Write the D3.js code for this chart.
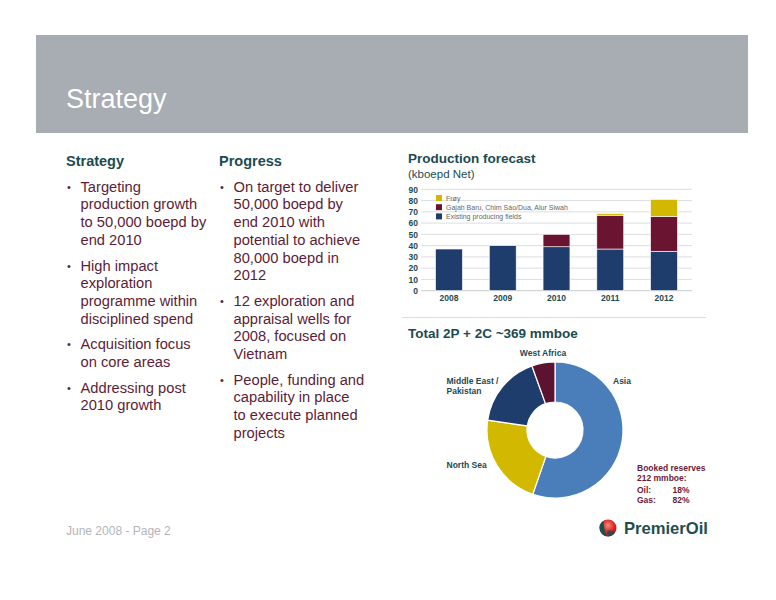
<!DOCTYPE html>
<html lang="en">
<head>
<meta charset="UTF-8">
<title>Strategy</title>
<style>
    body { margin: 0; background: #fff; }
    svg text { font-family: "Liberation Sans", Arial, Helvetica, sans-serif; }
</style>
</head>
<body>
<svg id="slide" width="776" height="600"></svg>
<script src="https://d3js.org/d3.v7.min.js"></script>
<script>
// production forecast (kboepd net)
var years = ["2008", "2009", "2010", "2011", "2012"];
var seriesNames = ["Existing producing fields", "Gajah Baru, Chim Sáo/Dua, Alur Siwah", "Frøy"];
var existingFields = [37, 40, 39, 37, 35];
var gajahChimSao = [0, 0, 11, 30, 31];
var froy = [0, 0, 0, 1.5, 15];
var yTicks = [0, 10, 20, 30, 40, 50, 60, 70, 80, 90];

// total 2P + 2C reserves split (%)
var regions = ["Asia", "North Sea", "Middle East / Pakistan", "West Africa"];
var reserveShares = [55.3, 22, 17.2, 5.5];

var strategyBullets = [
    ["Targeting", "production growth", "to 50,000 boepd by", "end 2010"],
    ["High impact", "exploration", "programme within", "disciplined spend"],
    ["Acquisition focus", "on core areas"],
    ["Addressing post", "2010 growth"]
];
var progressBullets = [
    ["On target to deliver", "50,000 boepd by", "end 2010 with", "potential to achieve", "80,000 boepd in", "2012"],
    ["12 exploration and", "appraisal wells for", "2008, focused on", "Vietnam"],
    ["People, funding and", "capability in place", "to execute planned", "projects"]
];

var teal = "#1b4b52",
    maroon = "#5b1d38",
    seriesColors = ["#1f3d6c", "#6a1431", "#d3b800"],
    sliceColors = ["#4a7ebb", "#d3b800", "#1f3d6c", "#5c1330"];

var svg = d3.select("#slide");

// header band
svg.append("rect")
    .attr("x", 36).attr("y", 35)
    .attr("width", 712).attr("height", 98)
    .attr("fill", "#a8acb3");
svg.append("text")
    .attr("x", 66).attr("y", 108)
    .attr("fill", "#fff")
    .attr("font-size", 27)
    .text("Strategy");

// two text columns
function bulletColumn(x, heading, bullets) {
    svg.append("text")
        .attr("x", x).attr("y", 166)
        .attr("fill", teal)
        .attr("font-size", 14.5)
        .attr("font-weight", "bold")
        .text(heading);
    var y = 191.7;
    bullets.forEach(function(lines) {
        svg.append("text")
            .attr("x", x + 1).attr("y", y - 1)
            .attr("fill", maroon)
            .attr("font-size", 11)
            .text("•");
        lines.forEach(function(line) {
            svg.append("text")
                .attr("x", x + 14.5).attr("y", y)
                .attr("fill", maroon)
                .attr("font-size", 14.7)
                .text(line);
            y += 17.7;
        });
        y += 8;
    });
}
bulletColumn(66, "Strategy", strategyBullets);
bulletColumn(219, "Progress", progressBullets);

// production forecast chart
svg.append("text")
    .attr("x", 408).attr("y", 163)
    .attr("fill", teal)
    .attr("font-size", 13.5)
    .attr("font-weight", "bold")
    .text("Production forecast");
svg.append("text")
    .attr("x", 408).attr("y", 178)
    .attr("fill", teal)
    .attr("font-size", 11.5)
    .text("(kboepd Net)");

var x = d3.scaleBand().domain(years).range([421, 692]).paddingInner(0.5).paddingOuter(0.27),
    y = d3.scaleLinear().domain([0, 90]).range([290.7, 189.3]);

var chart = svg.append("g");

chart.append("g")
    .selectAll("line")
    .data(yTicks)
    .enter().append("line")
    .attr("x1", 421).attr("x2", 692)
    .attr("y1", function(d) { return y(d); })
    .attr("y2", function(d) { return y(d); })
    .attr("stroke", function(d) { return d === 0 ? "#b9bcc2" : "#d4d6da"; })
    .attr("stroke-width", 0.8);

var yAxis = chart.append("g")
    .attr("transform", "translate(421,0)")
    .call(d3.axisLeft(y).tickValues(yTicks).tickSize(0).tickPadding(3));
yAxis.select(".domain").remove();
yAxis.selectAll("text")
    .attr("fill", teal)
    .attr("font-size", 8.5)
    .attr("font-weight", "bold")
    .style("font-family", "'Liberation Sans', Arial, sans-serif");

var xAxis = chart.append("g")
    .attr("transform", "translate(0,290.7)")
    .call(d3.axisBottom(x).tickSize(0).tickPadding(4));
xAxis.select(".domain").remove();
xAxis.selectAll("text")
    .attr("fill", teal)
    .attr("font-size", 8.5)
    .attr("font-weight", "bold")
    .style("font-family", "'Liberation Sans', Arial, sans-serif");

var table = years.map(function(yr, i) {
    return { year: yr, existing: existingFields[i], gajah: gajahChimSao[i], froy: froy[i] };
});
var stack = d3.stack().keys(["existing", "gajah", "froy"])(table);

chart.append("g")
    .selectAll("g")
    .data(stack)
    .enter().append("g")
    .attr("fill", function(d, i) { return seriesColors[i]; })
    .selectAll("rect")
    .data(function(d) { return d; })
    .enter().append("rect")
    .filter(function(d) { return d[1] - d[0] > 0; })
    .attr("x", function(d) { return x(d.data.year); })
    .attr("width", x.bandwidth())
    .attr("y", function(d) { return y(d[1]); })
    .attr("height", function(d) { return y(d[0]) - y(d[1]); })
    .attr("stroke", "#fff")
    .attr("stroke-width", 0.6);

var legend = chart.append("g")
    .selectAll("g")
    .data(seriesNames.slice().reverse())
    .enter().append("g")
    .attr("transform", function(d, i) { return "translate(436," + (195 + i * 9.2) + ")"; });
legend.append("rect")
    .attr("width", 6).attr("height", 6)
    .attr("fill", function(d, i) { return seriesColors[2 - i]; });
legend.append("text")
    .attr("x", 10).attr("y", 5.5)
    .attr("fill", "#666")
    .attr("font-size", 7)
    .text(function(d) { return d; });

svg.append("line")
    .attr("x1", 402).attr("x2", 706)
    .attr("y1", 317.5).attr("y2", 317.5)
    .attr("stroke", "#dcdcdc")
    .attr("stroke-width", 1.2);

// reserves donut
svg.append("text")
    .attr("x", 408).attr("y", 337.5)
    .attr("fill", teal)
    .attr("font-size", 13.5)
    .attr("font-weight", "bold")
    .text("Total 2P + 2C ~369 mmboe");

var pie = d3.pie().sort(null)(reserveShares),
    arc = d3.arc().innerRadius(28).outerRadius(68);

svg.append("g")
    .attr("transform", "translate(555,430)")
    .selectAll("path")
    .data(pie)
    .enter().append("path")
    .attr("d", arc)
    .attr("fill", function(d, i) { return sliceColors[i]; })
    .attr("stroke", "#fff")
    .attr("stroke-width", 1.2);

var sliceLabels = [
    { lines: ["Asia"], x: 613, y: 384, anchor: "start" },
    { lines: ["North Sea"], x: 446.5, y: 468, anchor: "start" },
    { lines: ["Middle East /", "Pakistan"], x: 446.5, y: 384, anchor: "start" },
    { lines: ["West Africa"], x: 543, y: 356, anchor: "middle" }
];
sliceLabels.forEach(function(l, i) {
    var t = svg.append("text")
        .attr("x", l.x).attr("y", l.y)
        .attr("text-anchor", l.anchor)
        .attr("fill", teal)
        .attr("font-size", 8.5)
        .attr("font-weight", "bold");
    l.lines.forEach(function(line, j) {
        t.append("tspan").attr("x", l.x).attr("dy", j === 0 ? 0 : 10).text(j === 0 && l.lines.length === 1 ? regions[i] : line);
    });
});

var booked = svg.append("g")
    .attr("fill", "#6b1a3c")
    .attr("font-size", 8.5)
    .attr("font-weight", "bold");
booked.append("text").attr("x", 637).attr("y", 471).text("Booked reserves");
booked.append("text").attr("x", 637).attr("y", 481).text("212 mmboe:");
booked.append("text").attr("x", 637).attr("y", 492.5).text("Oil:");
booked.append("text").attr("x", 672.5).attr("y", 492.5).text("18%");
booked.append("text").attr("x", 637).attr("y", 503).text("Gas:");
booked.append("text").attr("x", 672.5).attr("y", 503).text("82%");

// footer
svg.append("text")
    .attr("x", 66).attr("y", 535)
    .attr("fill", "#b3b5bb")
    .attr("font-size", 12)
    .text("June 2008 - Page 2");

var defs = svg.append("defs");
var grad = defs.append("radialGradient").attr("id", "ball").attr("cx", "50%").attr("cy", "35%").attr("r", "65%");
grad.append("stop").attr("offset", "0%").attr("stop-color", "#f68a78");
grad.append("stop").attr("offset", "55%").attr("stop-color", "#dc2a2a");
grad.append("stop").attr("offset", "100%").attr("stop-color", "#a3161a");

var logo = svg.append("g").attr("transform", "translate(608,528)");
logo.append("circle").attr("r", 8.5).attr("fill", "url(#ball)");
logo.append("path")
    .attr("d", "M-4.5,-7.2 A8.5,8.5 0 0 0 -1,8.4 C-3.5,4 -4.2,-2 -4.5,-7.2 Z")
    .attr("fill", "#1e4f50");
logo.append("path")
    .attr("d", "M-0.5,2.5 C3,2.5 6.5,3 6.8,5 A8.5,8.5 0 0 1 -0.5,8.5 Z")
    .attr("fill", "#1e4f50")
    .attr("opacity", 0.85);
svg.append("text")
    .attr("x", 624).attr("y", 533.5)
    .attr("fill", "#1e4f50")
    .attr("font-size", 16.6)
    .attr("font-weight", "bold")
    .text("PremierOil");
</script>
</body>
</html>
